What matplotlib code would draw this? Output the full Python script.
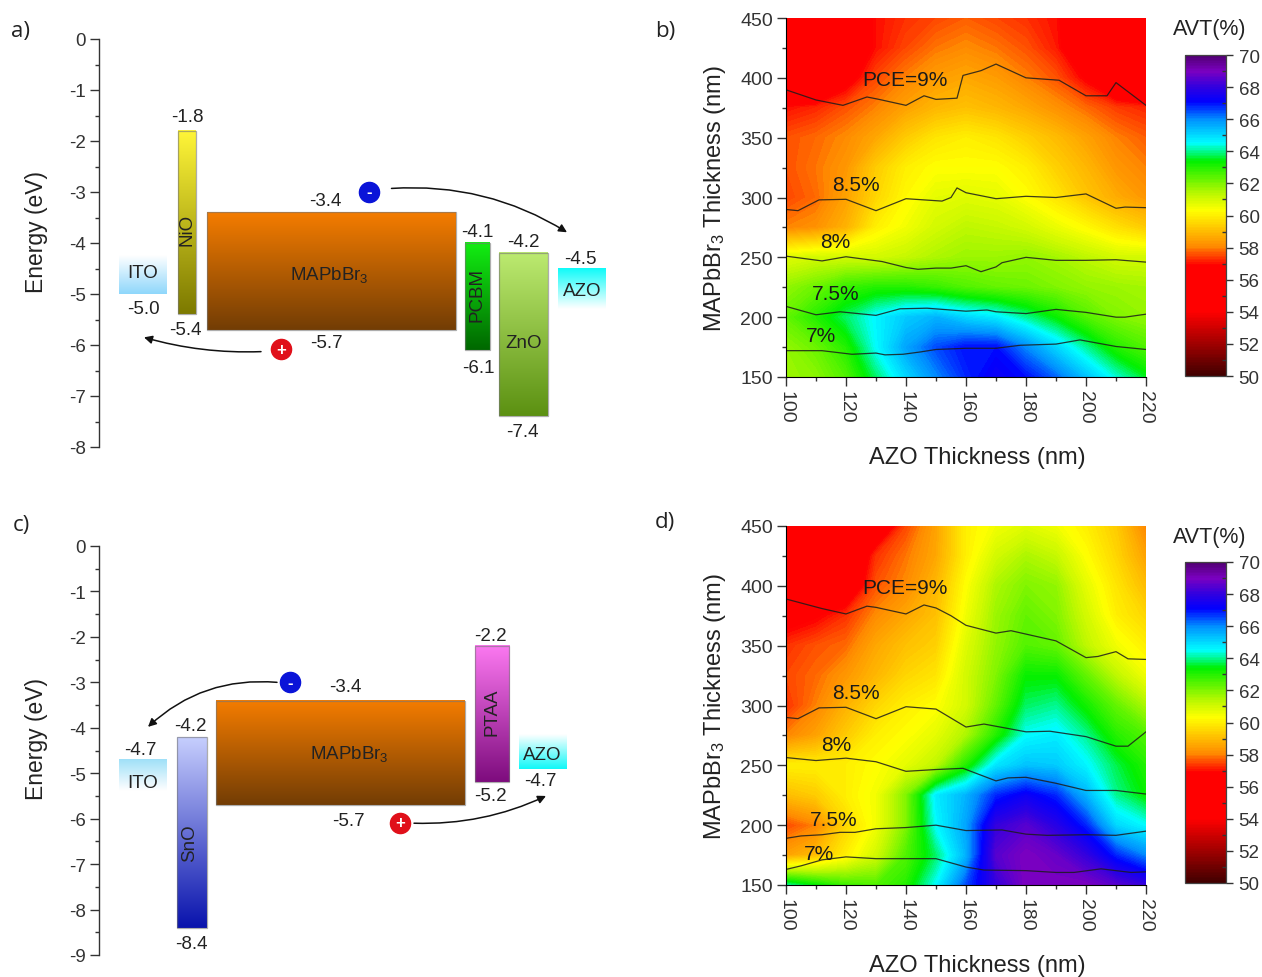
import numpy as np
import matplotlib
matplotlib.use("Agg")
import matplotlib.pyplot as plt
from matplotlib.colors import LinearSegmentedColormap, to_rgba
from matplotlib.patches import FancyArrowPatch, Rectangle
from matplotlib.ticker import MultipleLocator

W, H = 1262, 978
plt.rcParams['font.family'] = ['Liberation Sans', 'DejaVu Sans']
plt.rcParams['mathtext.default'] = 'regular'
TXT = '#222222'

# band levels (eV): name, top, bottom
levels_a = {'ITO': (-4.25, -5.0), 'NiO': (-1.8, -5.4), 'MAPbBr': (-3.4, -5.7),
            'PCBM': (-4.0, -6.1), 'ZnO': (-4.2, -7.4), 'AZO': (-4.5, -5.3)}
levels_c = {'ITO': (-4.7, -5.4), 'SnO': (-4.2, -8.4), 'MAPbBr': (-3.4, -5.7),
            'PTAA': (-2.2, -5.2), 'AZO': (-4.15, -4.9)}

# AVT (%)
thick_azo = [100, 110, 120, 130, 140, 150, 160, 170, 180, 190, 200, 210, 220]
thick_mapbbr = [150, 175, 200, 225, 250, 275, 300, 325, 350, 375, 400, 425, 450]
avt_b = [
    [61.7, 61.9, 62.5, 63.8, 65.0, 66.0, 66.8, 67.3, 67.0, 66.3, 65.3, 64.3, 63.5],
    [61.8, 62.2, 63.0, 64.5, 65.7, 66.5, 67.0, 67.0, 66.0, 65.0, 64.0, 63.0, 62.5],
    [62.3, 63.0, 63.8, 64.6, 65.2, 65.5, 65.0, 64.7, 64.0, 63.3, 62.5, 62.0, 61.8],
    [61.8, 62.2, 62.8, 63.0, 63.0, 62.8, 62.5, 62.3, 62.2, 62.0, 61.8, 61.7, 61.6],
    [60.8, 61.0, 61.0, 61.0, 61.2, 61.5, 61.7, 61.7, 61.8, 61.6, 61.3, 61.0, 61.0],
    [58.0, 58.2, 58.8, 60.0, 60.5, 61.0, 61.3, 61.2, 61.0, 60.6, 60.2, 59.7, 59.3],
    [57.5, 57.8, 58.5, 59.5, 60.2, 60.7, 60.8, 60.7, 60.3, 59.8, 59.2, 58.7, 58.3],
    [57.6, 57.9, 58.3, 59.3, 60.0, 60.3, 60.3, 60.3, 60.0, 59.4, 58.9, 58.3, 58.0],
    [57.6, 57.8, 58.1, 58.6, 59.3, 59.8, 60.0, 59.8, 59.4, 59.0, 58.5, 58.0, 57.7],
    [57.0, 57.2, 57.6, 58.0, 58.5, 58.9, 59.1, 58.9, 58.6, 58.2, 57.8, 57.4, 57.2],
    [55.0, 55.0, 56.5, 57.5, 58.0, 58.4, 58.6, 58.4, 58.0, 57.6, 56.8, 55.5, 55.0],
    [55.0, 55.0, 55.8, 57.0, 57.5, 57.9, 58.1, 57.9, 57.6, 57.1, 55.8, 55.0, 55.0],
    [55.0, 55.0, 55.8, 57.0, 57.3, 57.5, 57.7, 57.5, 57.3, 57.0, 55.8, 55.0, 55.0],
]
avt_d = [
    [64.0, 63.3, 62.7, 62.5, 63.0, 64.5, 66.5, 68.0, 69.0, 69.0, 69.0, 68.5, 68.0],
    [58.5, 59.0, 60.0, 61.0, 62.5, 63.8, 65.5, 68.5, 69.0, 68.7, 68.0, 66.8, 66.0],
    [57.5, 58.0, 59.5, 60.5, 62.0, 64.5, 65.7, 68.0, 68.5, 67.8, 66.8, 65.0, 64.5],
    [59.0, 59.3, 60.0, 60.5, 62.0, 64.7, 65.5, 66.8, 67.3, 66.8, 65.5, 64.0, 63.3],
    [60.0, 60.0, 60.0, 60.3, 60.7, 61.3, 63.0, 64.8, 65.3, 65.2, 64.6, 63.7, 63.0],
    [58.0, 58.5, 59.3, 60.0, 60.3, 60.7, 61.5, 63.0, 64.5, 64.7, 64.0, 63.0, 62.5],
    [57.3, 58.0, 58.8, 59.5, 60.0, 60.3, 61.0, 62.3, 63.8, 64.0, 63.2, 62.3, 61.5],
    [57.5, 57.8, 58.3, 58.9, 59.5, 59.8, 61.0, 62.0, 63.3, 63.3, 62.3, 61.3, 60.5],
    [57.3, 57.6, 57.8, 58.6, 59.1, 59.4, 60.8, 61.8, 62.5, 62.3, 61.3, 60.5, 60.0],
    [56.5, 56.8, 57.3, 58.1, 58.6, 59.1, 60.5, 61.7, 62.3, 62.0, 61.0, 60.0, 59.5],
    [55.0, 55.0, 56.0, 57.6, 58.1, 58.9, 60.3, 61.5, 62.0, 61.8, 60.7, 59.8, 59.0],
    [55.0, 55.0, 55.5, 57.3, 57.9, 58.6, 60.0, 61.0, 61.5, 61.2, 60.3, 59.5, 58.5],
    [55.0, 55.0, 55.0, 56.0, 57.5, 58.5, 60.0, 60.5, 60.8, 60.5, 60.0, 59.3, 58.0],
]

# PCE iso-lines, (AZO, MAPbBr3) pairs
pce_b = {
    '9': [(100, 390), (110, 381.5), (119, 377), (127, 384), (131, 382), (140, 377), (146, 385), (150, 382),
          (157, 383), (159, 402), (165, 406), (170, 411.5), (180, 400), (191, 398), (200, 385), (207, 385),
          (210, 396), (220, 377)],
    '8.5': [(100, 290), (104, 289), (111, 298), (120, 298.5), (130, 289), (140, 299), (152, 297), (155, 300),
            (157, 308), (160, 304), (170, 299), (180, 301), (190, 300), (200, 303), (210, 291), (213, 292),
            (220, 291.5)],
    '8': [(100, 251), (112, 247), (120, 250.5), (132, 246.5), (140, 241.5), (144, 240), (150, 241), (155, 241),
          (160, 243), (165, 238), (170, 242), (172, 245.5), (180, 250), (190, 247.5), (200, 247.5), (210, 248),
          (220, 246)],
    '7.5': [(100, 209), (110, 202), (118, 204.5), (130, 201.5), (138, 207), (147, 207.5), (160, 205), (167, 206),
            (170, 204.5), (180, 203), (190, 206.5), (200, 204), (210, 200), (213, 200), (220, 202.5)],
    '7': [(100, 172), (112, 172), (122, 169), (130, 170), (133, 168.5), (139, 169), (145, 171), (150, 173),
          (160, 174), (170, 174), (178, 176.5), (190, 177.5), (198, 181), (210, 175.5), (220, 173)],
}
pce_d = {
    '9': [(100, 389), (112, 381), (120, 376.5), (127, 383), (130, 382), (140, 376.5), (146, 384), (150, 381.5),
          (155, 375), (160, 367), (170, 360.5), (175, 362.5), (190, 354), (200, 340), (204, 341), (210, 345),
          (214, 339), (220, 338.5)],
    '8.5': [(100, 290), (104, 289), (111, 298), (120, 298.5), (130, 289), (140, 299), (150, 297), (160, 282),
            (166, 284.5), (180, 278), (188, 278.5), (200, 274), (210, 266), (214, 266), (220, 278)],
    '8': [(100, 256.5), (110, 254), (120, 256), (130, 253), (140, 245), (150, 246.5), (159, 247.5), (170, 237),
          (174, 239.5), (180, 240), (190, 235), (200, 229), (210, 229), (220, 226)],
    '7.5': [(100, 189), (105, 191), (112, 192), (118, 194), (123, 194), (130, 197), (140, 198), (150, 200),
            (160, 195.5), (172, 196), (180, 192.5), (187, 191.5), (200, 192), (210, 191.5), (220, 195)],
    '7': [(100, 163), (105, 166), (112, 171), (120, 173.5), (130, 172), (140, 172), (150, 172), (160, 165),
          (166, 162.5), (180, 162), (190, 160.5), (196, 160.5), (205, 163.5), (215, 160.5), (220, 161)],
}
pce_text_b = [(139.6, 398.6, 'PCE=9%'), (123.4, 311, '8.5%'), (116.4, 263, '8%'), (116.4, 220, '7.5%'), (111.6, 185, '7%')]
pce_text_d = [(139.6, 398.5, 'PCE=9%'), (123.4, 311, '8.5%'), (116.8, 267, '8%'), (115.8, 205, '7.5%'), (111, 176.7, '7%')]

avt_cmap = LinearSegmentedColormap.from_list('avt', [
    (0.00, '#400000'), (0.10, '#a00000'), (0.20, '#ff0000'), (0.345, '#ff0000'), (0.405, '#ff8c00'),
    (0.515, '#ffff00'), (0.565, '#c0f800'), (0.67, '#00f000'), (0.725, '#00ffff'),
    (0.80, '#0090ff'), (0.855, '#0000ff'), (0.90, '#3000e0'), (0.95, '#7a00c0'),
    (1.00, '#500070')], N=512)


def axes_px(left, top, right, bottom):
    return fig.add_axes([left / W, 1 - bottom / H, (right - left) / W, (bottom - top) / H])


def band(ax, x0, x1, top, bottom, c_top, c_bot, edge=True):
    rgba = np.linspace(to_rgba(c_top), to_rgba(c_bot), 64)[:, None, :]
    ax.imshow(rgba, extent=(x0, x1, bottom, top), aspect='auto', interpolation='bilinear', zorder=2)
    if edge:
        ax.add_patch(Rectangle((x0, bottom), x1 - x0, top - bottom, fill=False, ec='#77777799', lw=0.9, zorder=3))


def charge(ax, x, y, sign, color):
    ax.plot([x], [y], 'o', ms=14.5, color=color, mec=color, zorder=5)
    ax.text(x, y, sign, color='white', ha='center', va='center', fontsize=12, fontweight='bold', zorder=6)


def arrow(ax, start, end, rad):
    ax.add_patch(FancyArrowPatch(start, end, connectionstyle=f'arc3,rad={rad}', arrowstyle='-|>',
                                 mutation_scale=12, lw=1.1, color='#111111', zorder=4, shrinkA=0, shrinkB=0))


def diagram_axes(top, bottom, ymin, label_y):
    ax = axes_px(99, top, 640, bottom)
    ax.set_xlim(99, 640)
    ax.set_ylim(ymin, 0)
    for s in ['top', 'right', 'bottom']:
        ax.spines[s].set_visible(False)
    ax.spines['left'].set_linewidth(1.0)
    ax.spines['left'].set_color('#333333')
    ax.set_xticks([])
    ax.yaxis.set_minor_locator(MultipleLocator(0.5))
    ax.set_yticks(np.arange(ymin, 1))
    ax.set_yticklabels([f'{int(v)}' for v in np.arange(ymin, 1)])
    ax.tick_params(axis='y', which='major', length=6.5, width=1.0, labelsize=13.5, colors='#333333', pad=3)
    ax.tick_params(axis='y', which='minor', length=3.2, width=1.0, color='#333333')
    ax.patch.set_alpha(0)
    fig.text(37 / W, 1 - label_y / H, 'Energy (eV)', rotation=90, ha='center', va='center',
             fontsize=16.5, color=TXT)
    return ax


def label(ax, x, y, s, size=13.5, rot=0):
    ax.text(x, y, s, ha='center', va='center', fontsize=size, rotation=rot, color=TXT, zorder=6)


def heat_panel(top, bottom, cb_top, cb_bot, avt, pce, pce_labels):
    ax = axes_px(786, top, 1146, bottom)
    lev = np.linspace(50, 70, 201)
    cf = ax.contourf(thick_azo, thick_mapbbr, avt, levels=lev, cmap=avt_cmap, vmin=50, vmax=70)
    for k in pce:
        pts = np.array(pce[k])
        ax.plot(pts[:, 0], pts[:, 1], color='#1c1c1c', lw=0.9, alpha=0.85)
    for x, y, s in pce_labels:
        ax.text(x, y, s, fontsize=15, color='#1a1a1a', ha='center', va='center')
    ax.set_xlim(100, 220)
    ax.set_ylim(150, 450)
    ax.xaxis.set_major_locator(MultipleLocator(20))
    ax.xaxis.set_minor_locator(MultipleLocator(10))
    ax.yaxis.set_major_locator(MultipleLocator(50))
    ax.yaxis.set_minor_locator(MultipleLocator(25))
    ax.tick_params(which='major', length=6.5, width=1.0, labelsize=14, colors='#333333', pad=3)
    ax.tick_params(which='minor', length=3.2, width=1.0, color='#333333')
    ax.tick_params(axis='x', labelrotation=-90)
    ax.spines['top'].set_visible(False)
    ax.spines['right'].set_visible(False)
    fig.text(977 / W, 1 - (bottom + 80) / H, 'AZO Thickness (nm)', fontsize=17, color=TXT,
             ha='center', va='center')
    fig.text(715 / W, 1 - (top + bottom) / 2 / H, 'MAPbBr$_3$ Thickness (nm)', fontsize=17, color=TXT,
             rotation=90, ha='center', va='center')

    cax = axes_px(1185, cb_top, 1226, cb_bot)
    cb = fig.colorbar(cf, cax=cax, ticks=np.arange(50, 71, 2))
    cb.set_ticklabels([str(v) for v in range(50, 71, 2)])
    cb.ax.yaxis.set_minor_locator(MultipleLocator(1))
    cb.ax.tick_params(which='major', length=5, width=1.0, labelsize=13.5, colors='#333333', pad=4)
    cb.ax.tick_params(which='minor', length=3, width=1.0, direction='in', color='#333333')
    cb.outline.set_linewidth(0.9)
    cb.outline.set_edgecolor('#444444')
    fig.text(1210 / W, 1 - (cb_top - 26) / H, 'AVT(%)', fontsize=15.5, color=TXT, ha='center', va='center')


fig = plt.figure(figsize=(W / 100, H / 100), dpi=100)

# a)
ax = diagram_axes(40, 448, -8, 232)
la = levels_a
band(ax, 119, 167, *la['ITO'], '#ffffff', '#8fd7fb', edge=False)
band(ax, 178, 196, *la['NiO'], '#fff538', '#7d7a00')
band(ax, 206.5, 455.5, *la['MAPbBr'], '#f47c00', '#733d05')
band(ax, 465, 490, *la['PCBM'], '#12ee12', '#006800')
band(ax, 499, 548, *la['ZnO'], '#bcea70', '#5c9112')
band(ax, 558, 606, *la['AZO'], '#10fbf9', '#ffffff', edge=False)
ax.set_xlim(99, 640)
ax.set_ylim(-8, 0)
label(ax, 143, -4.57, 'ITO')
label(ax, 187, -3.73, 'NiO', rot=90)
label(ax, 329, -4.6, 'MAPbBr$_3$')
label(ax, 477, -5.0, 'PCBM', rot=90)
label(ax, 524, -5.95, 'ZnO')
label(ax, 582, -4.94, 'AZO')
for x, y, s in [(187, -1.51, '-1.8'), (143, -5.29, '-5.0'), (185, -5.69, '-5.4'), (325, -3.17, '-3.4'),
                (326.5, -5.95, '-5.7'), (477, -3.77, '-4.1'), (478, -6.44, '-6.1'), (523, -3.98, '-4.2'),
                (522, -7.7, '-7.4'), (580, -4.3, '-4.5')]:
    label(ax, x, y, s)
charge(ax, 369, -3.0, '-', '#0a14d8')
charge(ax, 281, -6.08, '+', '#e0101a')
arrow(ax, (391.5, -2.93), (567, -3.79), -0.16)
arrow(ax, (261, -6.13), (144, -5.85), -0.08)

# c)
ax = diagram_axes(547, 956, -9, 739)
lc = levels_c
band(ax, 119, 167, *lc['ITO'], '#a0e0f8', '#ffffff', edge=False)
band(ax, 177, 207, *lc['SnO'], '#c5cdfd', '#0a14ad')
band(ax, 216, 465, *lc['MAPbBr'], '#f47c00', '#733d05')
band(ax, 474.5, 509, *lc['PTAA'], '#fb78f0', '#7e0c7e')
band(ax, 519, 567, *lc['AZO'], '#ffffff', '#10f8f8', edge=False)
ax.set_xlim(99, 640)
ax.set_ylim(-9, 0)
label(ax, 143, -5.2, 'ITO')
label(ax, 190, -6.51, 'SnO', rot=90)
label(ax, 349.5, -4.56, 'MAPbBr$_3$')
label(ax, 492, -3.63, 'PTAA', rot=90)
label(ax, 542, -4.58, 'AZO')
for x, y, s in [(490, -1.96, '-2.2'), (140, -4.47, '-4.7'), (190, -3.96, '-4.2'), (345, -3.09, '-3.4'),
                (348, -6.04, '-5.7'), (490, -5.49, '-5.2'), (540, -5.17, '-4.7'), (191, -8.75, '-8.4')]:
    label(ax, x, y, s)
charge(ax, 290, -3.0, '-', '#0a14d8')
charge(ax, 400, -6.09, '+', '#e0101a')
arrow(ax, (277, -3.0), (148, -3.98), 0.22)
arrow(ax, (414, -6.1), (546, -5.5), 0.12)

# b), d)
heat_panel(19, 378, 56, 377, avt_b, pce_b, pce_text_b)
heat_panel(527, 886, 563, 884, avt_d, pce_d, pce_text_d)

# panel letters
for x, y, s in [(21, 32, 'a)'), (665, 32, 'b)'), (21, 525, 'c)'), (665, 523, 'd)')]:
    fig.text(x / W, 1 - y / H, s, fontsize=16, family='Open Sans', color=TXT, ha='center', va='center')

fig.savefig('out.png', dpi=100)
